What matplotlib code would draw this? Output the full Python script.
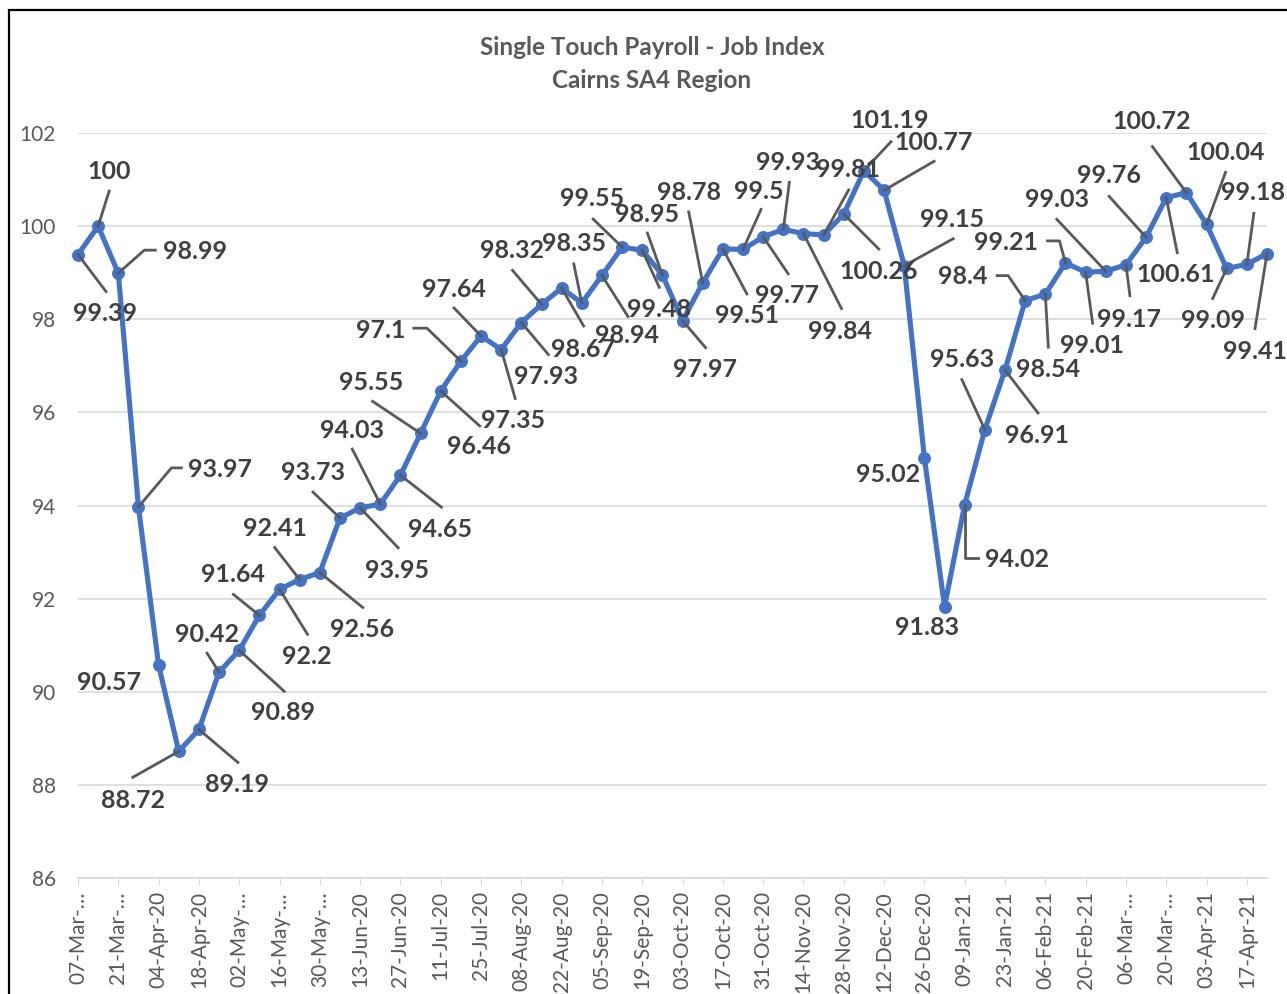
import matplotlib
matplotlib.use('Agg')
import matplotlib.pyplot as plt
from matplotlib.transforms import IdentityTransform
from matplotlib.patches import Rectangle
from matplotlib.lines import Line2D
import numpy as np

plt.rcParams['font.family'] = ['Lato', 'DejaVu Sans']

# weekly STP job index, Cairns SA4, 07-Mar-20 .. 24-Apr-21
job_index = [99.39, 100, 98.99, 93.97, 90.57, 88.72, 89.19, 90.42, 90.89, 91.64,
             92.2, 92.41, 92.56, 93.73, 93.95, 94.03, 94.65, 95.55, 96.46, 97.1,
             97.64, 97.35, 97.93, 98.32, 98.67, 98.35, 98.94, 99.55, 99.48, 98.95,
             97.97, 98.78, 99.51, 99.5, 99.77, 99.93, 99.84, 99.81, 100.26, 101.19,
             100.77, 99.15, 95.02, 91.83, 94.02, 95.63, 96.91, 98.4, 98.54, 99.21,
             99.01, 99.03, 99.17, 99.76, 100.61, 100.72, 100.04, 99.09, 99.18, 99.41]

tick_labels = ['07-Mar-…', '21-Mar-…', '04-Apr-20', '18-Apr-20', '02-May-…',
               '16-May-…', '30-May-…', '13-Jun-20', '27-Jun-20', '11-Jul-20',
               '25-Jul-20', '08-Aug-20', '22-Aug-20', '05-Sep-20', '19-Sep-20',
               '03-Oct-20', '17-Oct-20', '31-Oct-20', '14-Nov-20', '28-Nov-20',
               '12-Dec-20', '26-Dec-20', '09-Jan-21', '23-Jan-21', '06-Feb-21',
               '20-Feb-21', '06-Mar-…', '20-Mar-…', '03-Apr-21', '17-Apr-21']

# data label centre, pixels from its point (x right, y down)
label_off = [(27, 59), (11, -55), (77, -22), (82, -37), (-50, 17),
             (-46, 49), (38, 55), (-12, -38), (44, 62), (-26, -41),
             (27, 67), (-25, -51), (42, 57), (-27, -46), (37, 63),
             (-28, -74), (40, 54), (-49, -51), (38, 56), (-80, -31),
             (-27, -47), (12, 71), (25, 54), (-30, -54), (21, 61),
             (-8, -59), (25, 60), (-30, -49), (17, 59), (-15, -61),
             (22, 49), (-14, -90), (24, 67), (16, -58), (24, 59),
             (5, -67), (37, 98), (24, -65), (35, 57), (26, -50),
             (50, -48), (48, -46), (-36, 16), (-18, 21), (52, 55),
             (-23, -70), (32, 65), (-62, -24), (3, 75), (-59, -20),
             (6, 73), (-49, -72), (3, 55), (-37, -62), (9, 77),
             (-35, -71), (19, -72), (-14, 52), (6, -72), (-12, 98)]

# leader line vertices, pixels from the point
leaders = [[(28, 37)], [(11, -35)], [(26, -23), (37, -23)], [(33, -39), (43, -39)], [],
           [(-46, 26)], [(39, 33)], [(-12, -19)], [(45, 41)], [(-26, -21)],
           [(28, 45)], [(-25, -32)], [(43, 35)], [(-27, -26)], [(38, 40)],
           [(-28, -55)], [(41, 32)], [(-48, -32)], [(39, 35)], [(-34, -33), (-47, -33)],
           [(-27, -28)], [(14, 49)], [(27, 32)], [(-29, -34)], [(22, 38)],
           [(-8, -39)], [(26, 41)], [(-29, -28)], [(17, 37)], [(-15, -42)],
           [(23, 27)], [(-14, -71)], [(24, 45)], [(18, -40)], [(25, 37)],
           [(6, -47)], [(38, 75)], [(25, -45)], [(35, 35)], [(27, -29)],
           [(50, -29)], [(49, -27)], [], [], [(0, 53), (13, 53)],
           [(-23, -50)], [(33, 43)], [(-17, -25), (-28, -25)], [(3, 53)], [(-6, -22), (-18, -22)],
           [(7, 51)], [(-49, -52)], [(4, 31)], [(-37, -41)], [(11, 55)],
           [(-34, -46)], [(19, -52)], [(-14, 30)], [(7, -51)], [(-12, 75)]]

W, H = 1287, 994
fig = plt.figure(figsize=(W / 100, H / 100), dpi=100)
ax = fig.add_axes([78 / W, 1 - 878 / H, (1267 - 78) / W, (878 - 133) / H])

x = np.arange(len(job_index))
ax.plot(x, job_index, color='#4472C4', lw=3.7, marker='o', ms=8.3,
        zorder=3, clip_on=False)
ax.set_xlim(0, len(job_index) - 1)
ax.set_ylim(86, 102)
ax.set_yticks(range(86, 103, 2))
ax.set_xticks(x[::2])
ax.set_xticklabels(tick_labels, rotation=90)
ax.grid(axis='y', color='#D9D9D9', lw=1.2)
ax.set_axisbelow(True)
for s in ['top', 'right', 'left']:
    ax.spines[s].set_visible(False)
ax.spines['bottom'].set_color('#D9D9D9')
ax.spines['bottom'].set_linewidth(1.2)
ax.tick_params(axis='y', length=0, pad=16, labelsize=15, labelcolor='#595959')
ax.tick_params(axis='x', length=5, color='#D9D9D9', pad=4.5, labelsize=15,
               labelcolor='#595959')

# ── data labels with leader lines ──
ident = IdentityTransform()
for i, v in enumerate(job_index):
    px, py = ax.transData.transform((i, v))
    dx, dy = label_off[i]
    fig.text(px + dx, py - dy, f'{v:g}', transform=ident, ha='center', va='center',
             fontsize=18, fontweight='bold', color='#404040', zorder=5)
    if leaders[i]:
        xs = [px] + [px + a for a, b in leaders[i]]
        ys = [py] + [py - b for a, b in leaders[i]]
        fig.add_artist(Line2D(xs, ys, transform=ident, color='#595959', lw=2.0,
                              zorder=4))

fig.text(652 / W, 1 - 64 / H, 'Single Touch Payroll - Job Index\nCairns SA4 Region',
         ha='center', va='center', fontsize=17.5, fontweight='bold', color='#595959',
         linespacing=1.5)

# chart border (only top/left fall inside the crop)
fig.add_artist(Rectangle((9 / W, -0.1), 2, 1.1 - 10 / H, transform=fig.transFigure,
                         fill=False, ec='black', lw=1.6))

fig.savefig('out.png', dpi=100, facecolor='white')
